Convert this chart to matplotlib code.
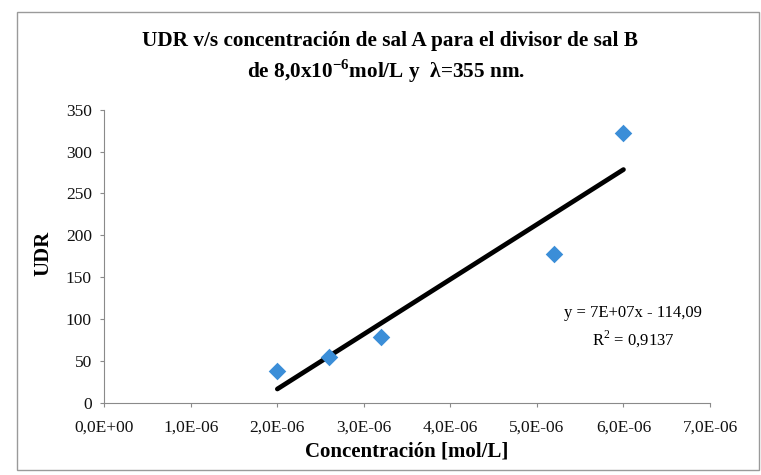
import numpy as np
import matplotlib
matplotlib.use("Agg")
import matplotlib.pyplot as plt
from matplotlib.patches import Rectangle
from matplotlib.ticker import FuncFormatter, MultipleLocator

# concentration of salt A [mol/L] and measured UDR
conc = [2.0e-6, 2.6e-6, 3.2e-6, 5.2e-6, 6.0e-6]
udr = [38, 55, 79, 178, 322]

title_1 = "UDR v/s concentración de sal A para el divisor de sal B"
title_2 = r"de 8,0x10$^{\mathbf{-6}}$mol/L y  λ=355 nm."
eq_text = "y = 7E+07x - 114,09\n" + r"R$^2$ = 0,9137"

plt.rcParams['font.family'] = ['Liberation Serif', 'DejaVu Serif']
plt.rcParams['mathtext.fontset'] = 'custom'
plt.rcParams['mathtext.rm'] = 'Liberation Serif'
plt.rcParams['mathtext.bf'] = 'Liberation Serif:bold'

fig = plt.figure(figsize=(7.61, 4.75), dpi=100)
ax = fig.add_axes([0.137, 0.152, 0.796, 0.617])

# chart frame
fig.add_artist(Rectangle((0.022, 0.011), 0.975, 0.964, transform=fig.transFigure,
                         fill=False, edgecolor='#9a9a9a', linewidth=1.0))

ax.scatter(conc, udr, marker='D', s=80, color='#3b8ed8', zorder=3, linewidths=0)

# linear trend line
slope, icept = np.polyfit(conc, udr, 1)
xs = np.array([min(conc), max(conc)])
ax.plot(xs, slope * xs + icept, color='black', linewidth=3.4, solid_capstyle='round', zorder=2)

ax.text(6.11e-6, 90, eq_text, ha='center', va='center', fontsize=12, linespacing=1.45)

ax.set_xlim(0, 7e-6)
ax.set_ylim(0, 350)
ax.xaxis.set_major_locator(MultipleLocator(1e-6))
ax.yaxis.set_major_locator(MultipleLocator(50))
ax.xaxis.set_major_formatter(FuncFormatter(lambda v, p: f"{v:.1E}".replace('.', ',')))

for s in ['top', 'right']:
    ax.spines[s].set_visible(False)
for s in ['left', 'bottom']:
    ax.spines[s].set_color('#8a8a8a')
ax.tick_params(direction='out', length=3, color='#8a8a8a', labelsize=12.5,
               labelcolor='#111111')
ax.tick_params(axis='x', pad=9)
ax.tick_params(axis='y', pad=6)

ax.set_xlabel('Concentración [mol/L]', fontsize=15, fontweight='bold')
ax.set_ylabel('UDR', fontsize=15, fontweight='bold')
ax.xaxis.label.set_va('center')
ax.yaxis.label.set_va('center')
ax.xaxis.set_label_coords(0.5, -0.167)
ax.yaxis.set_label_coords(-0.101, 0.51)

fig.text(0.513, 0.903, title_1, ha='center', va='baseline', fontsize=15.3, fontweight='bold')
fig.text(0.508, 0.836, title_2, ha='center', va='baseline', fontsize=15.3, fontweight='bold')

fig.savefig('out.png', dpi=100)
